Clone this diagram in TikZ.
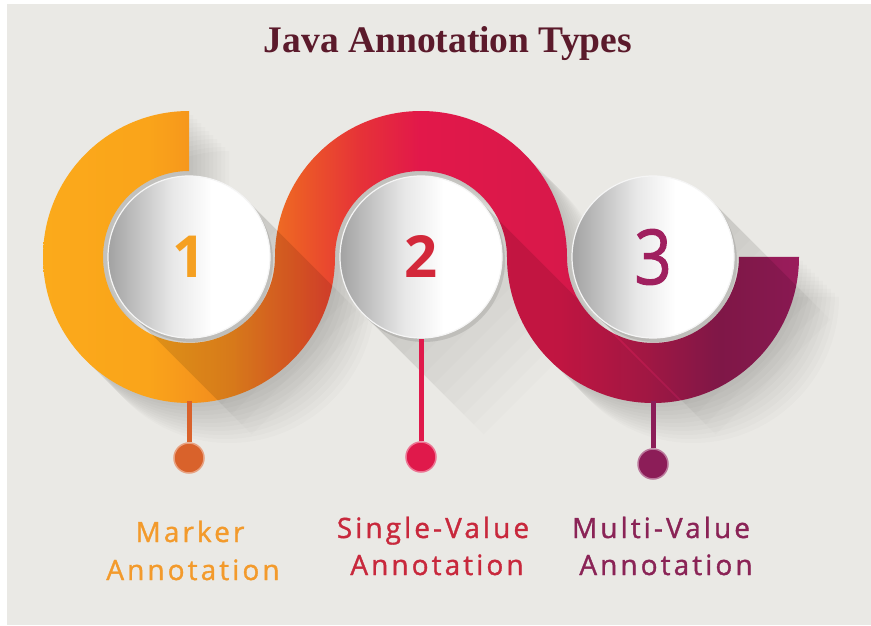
\documentclass[tikz,border=0pt]{standalone}
\usepackage{fontspec}
\setmainfont{Liberation Serif}
\newfontfamily\labelfont{Open Sans}[LetterSpace=11,Ligatures=NoCommon,FakeBold=1.2]
\newfontfamily\numfont{Open Sans}
\newfontfamily\numthinfont{Open Sans}[FakeBold=1.5]
\definecolor{bgc}{HTML}{EAE9E5}
\definecolor{titlec}{HTML}{5B1A2B}
\definecolor{b0}{HTML}{FBAA1B}
\definecolor{b1}{HTML}{FAA41A}
\definecolor{b2}{HTML}{F28A1E}
\definecolor{b3}{HTML}{EC5A27}
\definecolor{b4}{HTML}{E63238}
\definecolor{b5}{HTML}{E2184A}
\definecolor{b6}{HTML}{D8184A}
\definecolor{b7}{HTML}{B81A4C}
\definecolor{b8}{HTML}{8F1A50}
\definecolor{b9}{HTML}{9A1C5C}
\definecolor{k0}{HTML}{A2A2A2}
\definecolor{k1}{HTML}{E8E8E8}
\definecolor{pinA}{HTML}{D9622B}
\definecolor{pinB}{HTML}{E0194B}
\definecolor{pinC}{HTML}{8C1D58}
\definecolor{numA}{HTML}{F5A021}
\definecolor{numB}{HTML}{D3283A}
\definecolor{numC}{HTML}{A0205F}
\definecolor{labA}{HTML}{F39A2B}
\definecolor{labB}{HTML}{C8283C}
\definecolor{labC}{HTML}{8A2356}
\pgfdeclarehorizontalshading{bandshade}{100bp}{color(0bp)=(b0); color(25bp)=(b0); color(32bp)=(b1); color(37.4bp)=(b2); color(42bp)=(b3); color(46bp)=(b4); color(49.9bp)=(b5); color(59.2bp)=(b6); color(64.5bp)=(b7); color(69.8bp)=(b8); color(75bp)=(b9); color(100bp)=(b9)}
\pgfdeclarehorizontalshading{discshade}{100bp}{color(0bp)=(k0); color(25bp)=(k0); color(45bp)=(k1); color(57bp)=(white); color(100bp)=(white)}
\newcommand\mybandpath{(189,514) arc[start angle=90,end angle=360,radius=146]
  arc[start angle=180,end angle=0,radius=86]
  arc[start angle=180,end angle=360,radius=146]
  -- (739,368)
  arc[start angle=0,end angle=-180,radius=86]
  arc[start angle=0,end angle=180,radius=146]
  arc[start angle=0,end angle=-270,radius=86] -- cycle}
\tikzset{
  disc/.style={circle, minimum size=162pt, inner sep=0pt, shade, shading=discshade, draw=white!96!black, line width=1.2pt},
  pindot/.style={circle, minimum size=30pt, inner sep=0pt, line width=1.5pt},
  stem/.style={line width=5pt},
  lab/.style={anchor=base, inner sep=0pt},
  labtxt/.style={font=\labelfont\fontsize{28}{32}\selectfont},
  numtxt/.style={font=\numfont\bfseries\fontsize{58}{60}\selectfont}
}
\begin{document}
\begin{tikzpicture}[x=1pt,y=1pt]
\useasboundingbox (0,0) rectangle (871,625);
\fill[white] (0,0) rectangle (871,625);
\fill[bgc] (7,0) rectangle (871,621);
% background shadows of band
\foreach \d in {4,8,...,40}{
  \fill[black,opacity=0.016,shift={(\d,-\d)}] \mybandpath;
}
% background long shadows of circles
\foreach \cx in {189,421,653}{
  \foreach \L in {10,20,...,120}{
    \fill[black,opacity=0.012] ({\cx+57.3},{368+57.3}) -- ({\cx+57.3+\L},{368+57.3-\L}) -- ({\cx-57.3+\L},{368-57.3-\L}) -- ({\cx-57.3},{368-57.3}) -- cycle;
  }
}
% pins
\coordinate (s1) at (189,224);
\coordinate (s3) at (653,224);
\node[pindot, fill=pinA, draw=pinA!60!white] (d1) at (189,167) {};
\node[pindot, fill=pinB, draw=pinB!60!white] (d2) at (421,168) {};
\node[pindot, fill=pinC, draw=pinC!60!white] (d3) at (653,161) {};
% band
\shade[shading=bandshade] \mybandpath;
\begin{scope}
\clip \mybandpath;
\foreach \cx in {189,421,653}{
  \fill[black,opacity=0.11] ({\cx+57.3},{368+57.3}) -- ({\cx+57.3+400},{368+57.3-400}) -- ({\cx-57.3+400},{368-57.3-400}) -- ({\cx-57.3},{368-57.3}) -- cycle;
}
\end{scope}
% circle drop shadows
\foreach \cx in {189,421,653}{
  \fill[black,opacity=0.10] ({\cx+3},364) circle[radius=81];
}
\node[disc, text=numA, numtxt] (n1) at (189,368) {1};
\node[disc, text=numB, numtxt] (n2) at (421,368) {2};
\node[disc, text=numC, font=\numthinfont\fontsize{76}{78}\selectfont] (n3) at (653,368) {\raisebox{-3pt}{\scalebox{0.86}[1]{3}}};
\draw[stem, pinA] (d1) -- (s1);
\draw[stem, pinB] (d2) -- (n2.south);
\draw[stem, pinC] (d3) -- (s3);
% title
\node[lab, text=titlec, font=\bfseries\fontsize{37.5}{42}\selectfont] (title) at (448,572) {Java Annotation Types};
% labels
\node[lab, text=labA, labtxt] (la1) at (190,83) {Marker};
\node[lab, text=labA, labtxt] (la2) at (193,45) {Annotation};
\node[lab, text=labB, labtxt] (lb1) at (433,87) {Single-Value};
\node[lab, text=labB, labtxt] (lb2) at (437,50) {Annotation};
\node[lab, text=labC, labtxt] (lc1) at (661,87) {Multi-Value};
\node[lab, text=labC, labtxt] (lc2) at (666,50) {Annotation};
\end{tikzpicture}
\end{document}
